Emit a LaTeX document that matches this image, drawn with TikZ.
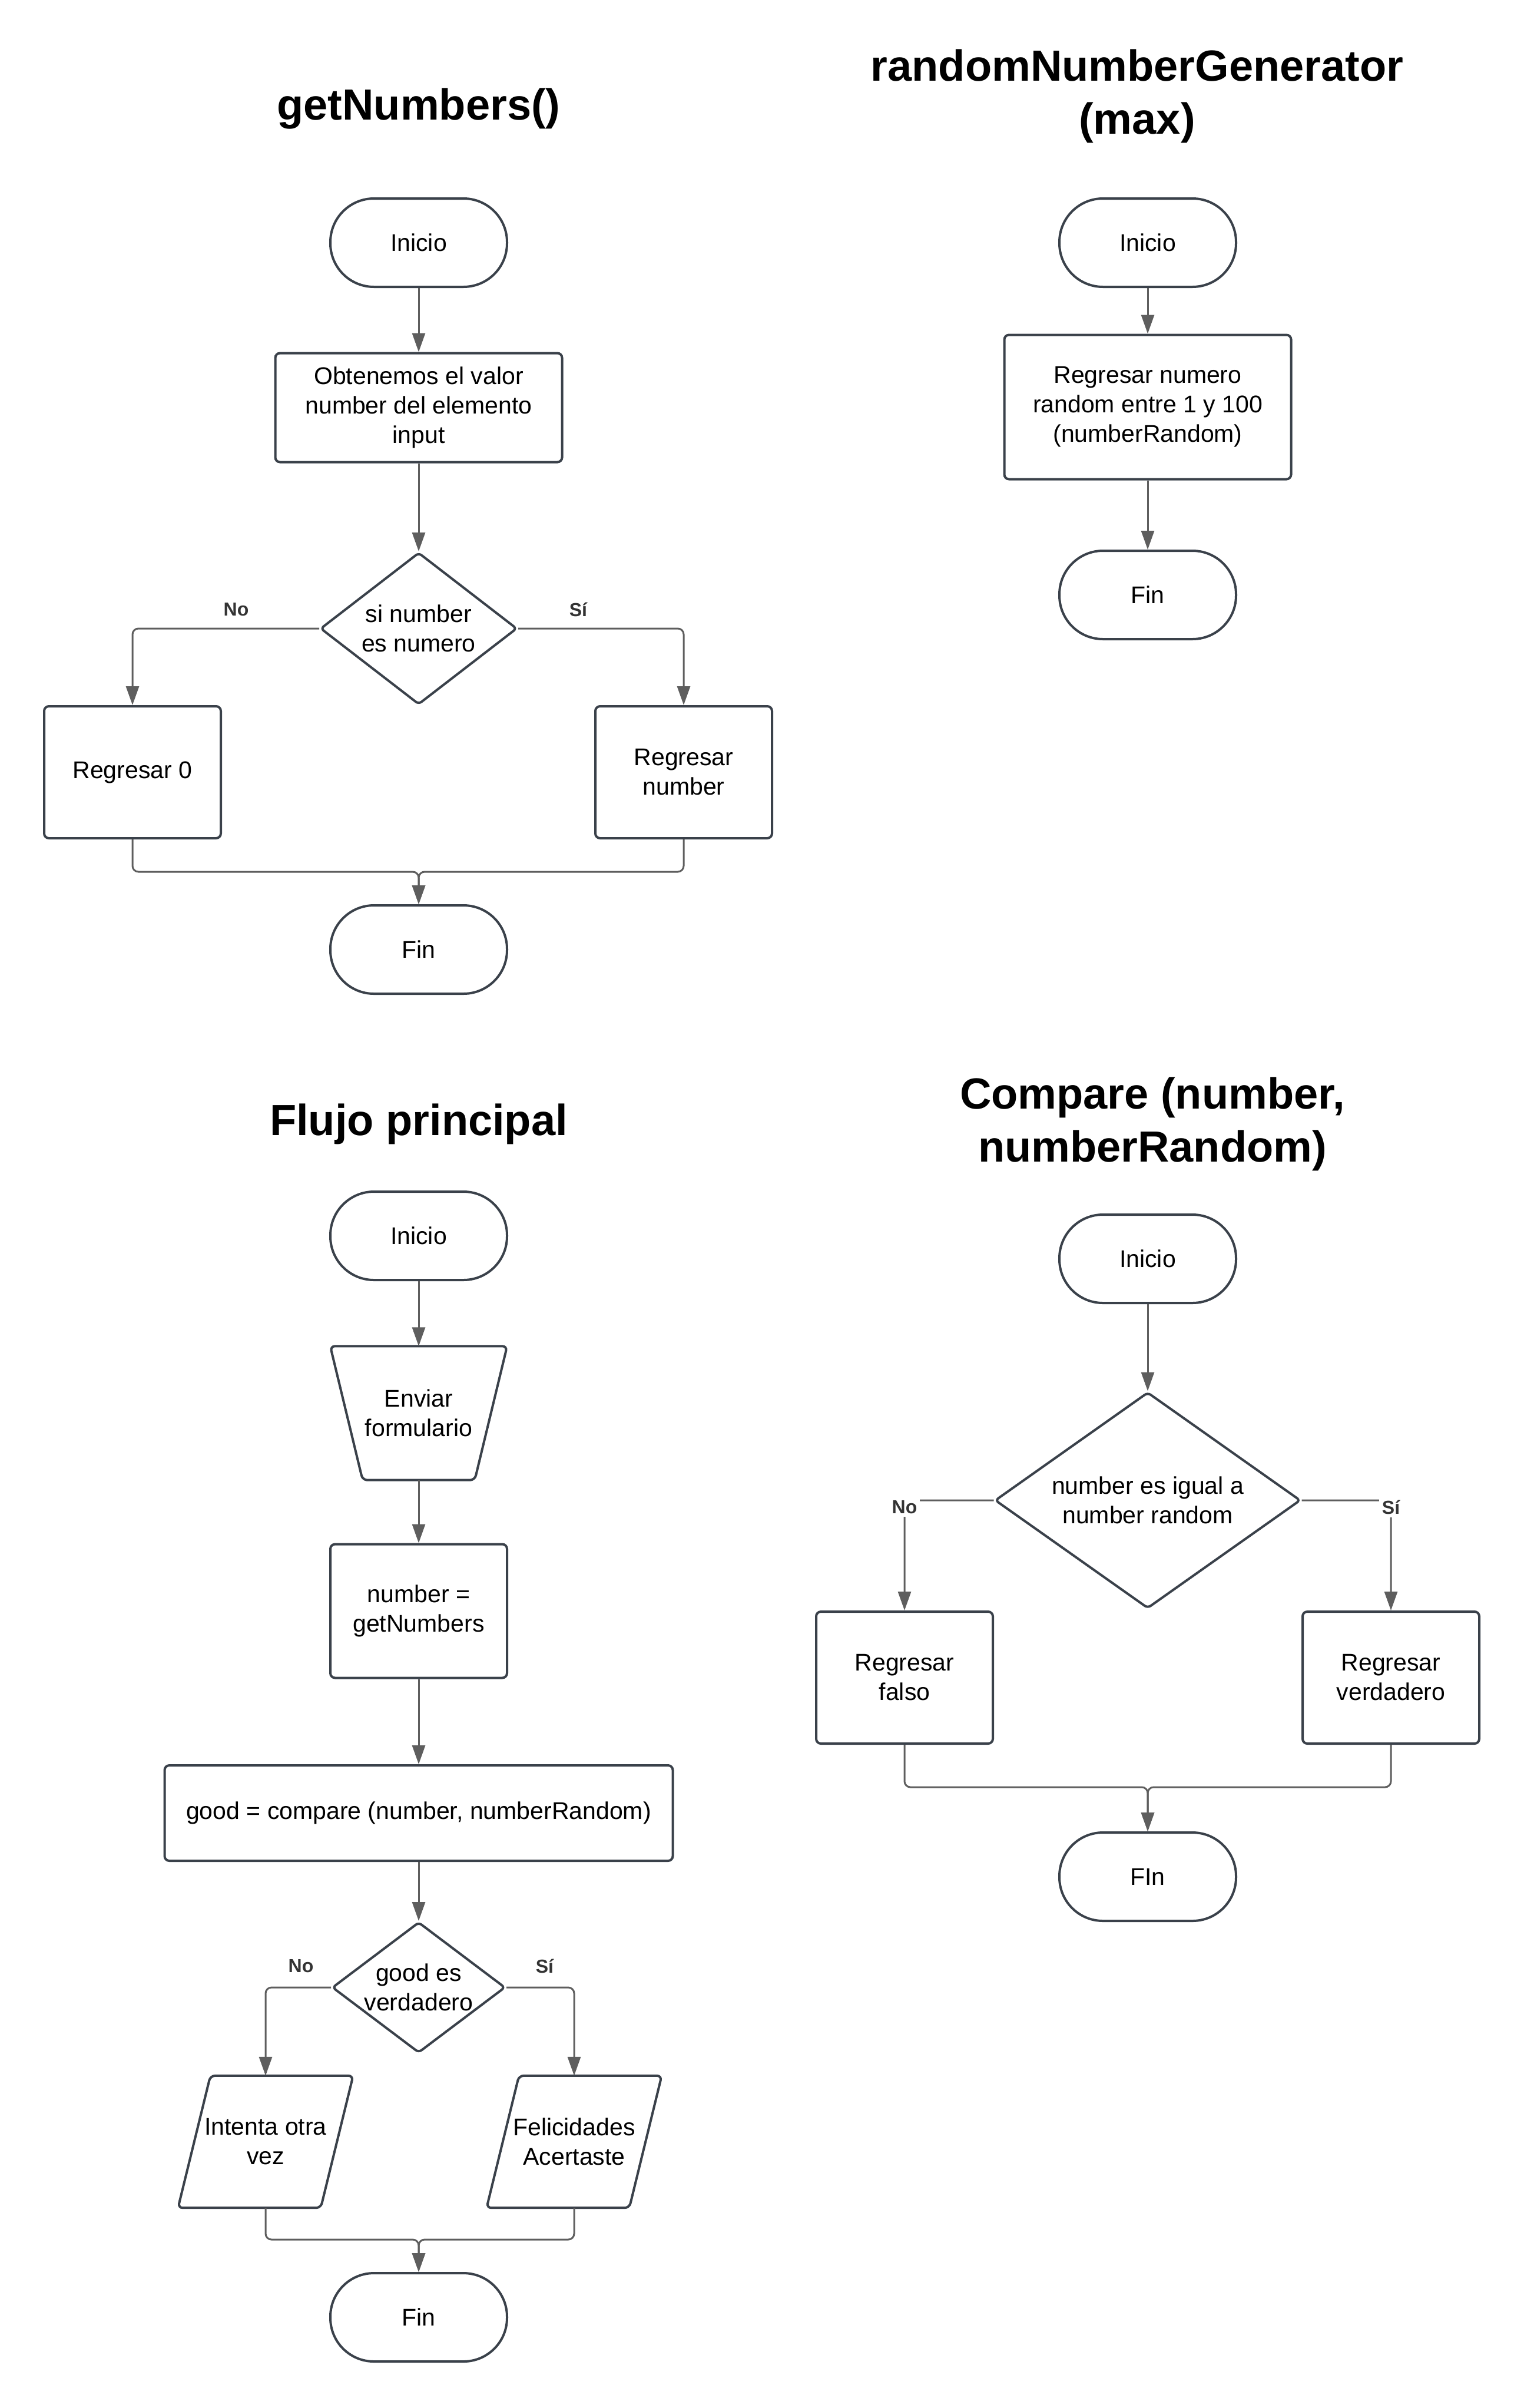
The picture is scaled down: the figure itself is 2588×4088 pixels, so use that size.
\documentclass[tikz,border=0pt]{standalone}
\usepackage{fontspec}
\setmainfont{Liberation Sans}
\usetikzlibrary{arrows.meta,shapes.geometric,calc}
\definecolor{bord}{HTML}{3A414A}
\definecolor{conn}{HTML}{5E5E5E}
\begin{document}
\begin{tikzpicture}[x=1pt,y=-1pt,
  every node/.style={font=\fontsize{41}{50}\selectfont, align=center, text=black},
  box/.style 2 args={draw=bord, line width=4pt, rounded corners=8pt, fill=white, minimum width=#1, minimum height=#2, inner sep=0pt},
  term/.style={draw=bord, line width=4pt, rounded corners=74pt, fill=white, minimum width=300pt, minimum height=150pt, inner sep=0pt},
  dia/.style 2 args={diamond, draw=bord, line width=4pt, rounded corners=6pt, fill=white, minimum width=#1, minimum height=#2, inner sep=0pt},
  ghost/.style 2 args={minimum width=#1, minimum height=#2, inner sep=0pt},
  shapeline/.style={draw=bord, line width=4pt, rounded corners=8pt},
  flow/.style={draw=conn, line width=3pt, rounded corners=10pt, -{Triangle[length=32pt,width=22pt]}},
  lbl/.style={font=\fontsize{32}{38}\selectfont\bfseries, text=black!80},
  title/.style={font=\fontsize{74}{90}\selectfont\bfseries}]
\fill[white] (0,0) rectangle (2588,4088);
\useasboundingbox (0,0) rectangle (2588,4088);

% ---------- getNumbers()
\node[title] (t1) at (711,185) {getNumbers()};
\node[term] (a1) at (711,412) {Inicio};
\node[box={487pt}{185pt}] (a2) at (711,692) {Obtenemos el valor\\number del elemento\\input};
\node[dia={334pt}{258pt}, label={center:si number\\es numero}] (a3) at (711,1067) {};
\node[box={300pt}{224pt}] (a4) at (225,1311) {Regresar 0};
\node[box={300pt}{224pt}] (a5) at (1161,1311) {Regresar\\number};
\node[term] (a6) at (711,1612) {Fin};
\coordinate (am) at (711,1480);
\draw[flow] (a1) -- (a2);
\draw[flow] (a2) -- (a3);
\draw[flow] (a3.west) -| (a4.north);
\draw[flow] (a3.east) -| (a5.north);
\draw[flow] (a4.south) |- (am) -- (a6.north);
\draw[flow] (a5.south) |- (am) -- (a6.north);
\node[lbl] (aNo) at (401,1035) {No};
\node[lbl] (aSi) at (982,1035) {Sí};

% ---------- randomNumberGenerator(max)
\node[title] (t2) at (1931,163) {randomNumberGenerator\\(max)};
\node[term] (b1) at (1949,412) {Inicio};
\node[box={487pt}{245pt}] (b2) at (1949,691) {Regresar numero\\random entre 1 y 100\\(numberRandom)};
\node[term] (b3) at (1949,1010) {Fin};
\draw[flow] (b1) -- (b2);
\draw[flow] (b2) -- (b3);

% ---------- Flujo principal
\node[title] (t3) at (711,1908) {Flujo principal};
\node[term] (c1) at (711,2098) {Inicio};
\node[ghost={300pt}{227pt}] (c2) at (711,2399) {};
\draw[shapeline, fill=white] (c2.north west) -- (c2.north east) -- ($(c2.south east)+(-55,0)$) -- ($(c2.south west)+(55,0)$) -- cycle;
\node (c2t) at (c2) {Enviar\\formulario};
\node[box={300pt}{227pt}] (c3) at (711,2735) {number =\\getNumbers};
\node[box={863pt}{162pt}] (c4) at (711,3078) {good = compare (number, numberRandom)};
\node[dia={294pt}{222pt}, label={center:good es\\verdadero}] (c5) at (711,3374) {};
\node[ghost={297pt}{224pt}] (c6) at (451,3636) {};
\draw[shapeline, fill=white] ($(c6.north west)+(55,0)$) -- (c6.north east) -- ($(c6.south east)+(-55,0)$) -- (c6.south west) -- cycle;
\node (c6t) at (c6) {Intenta otra\\vez};
\node[ghost={297pt}{224pt}] (c7) at (975,3636) {};
\draw[shapeline, fill=white] ($(c7.north west)+(55,0)$) -- (c7.north east) -- ($(c7.south east)+(-55,0)$) -- (c7.south west) -- cycle;
\node (c7t) at (c7) {Felicidades\\Acertaste};
\node[term] (c8) at (711,3934) {Fin};
\coordinate (cm) at (711,3802);
\draw[flow] (c1) -- (c2);
\draw[flow] (c2) -- (c3);
\draw[flow] (c3) -- (c4);
\draw[flow] (c4) -- (c5);
\draw[flow] (c5.west) -| (c6.north);
\draw[flow] (c5.east) -| (c7.north);
\draw[flow] (c6.south) |- (cm) -- (c8.north);
\draw[flow] (c7.south) |- (cm) -- (c8.north);
\node[lbl] (cNo) at (511,3338) {No};
\node[lbl] (cSi) at (925,3338) {Sí};

% ---------- Compare
\node[title] (t4) at (1957,1908) {Compare (number,\\numberRandom)};
\node[term] (d1) at (1949,2137) {Inicio};
\node[dia={519pt}{367pt}, label={center:number es igual a\\number random}] (d2) at (1949,2547) {};
\node[box={300pt}{224pt}] (d3) at (1536,2848) {Regresar\\falso};
\node[box={300pt}{224pt}] (d4) at (2362,2848) {Regresar\\verdadero};
\node[term] (d5) at (1949,3186) {FIn};
\coordinate (dm) at (1949,3034);
\draw[flow] (d1) -- (d2);
\draw[flow] (d2.west) -| (d3.north);
\draw[flow] (d2.east) -| (d4.north);
\draw[flow] (d3.south) |- (dm) -- (d5.north);
\draw[flow] (d4.south) |- (dm) -- (d5.north);
\node[lbl, fill=white, inner sep=5pt] (dNo) at (1536,2559) {No};
\node[lbl, fill=white, inner sep=5pt] (dSi) at (2362,2559) {Sí};
\end{tikzpicture}
\end{document}
